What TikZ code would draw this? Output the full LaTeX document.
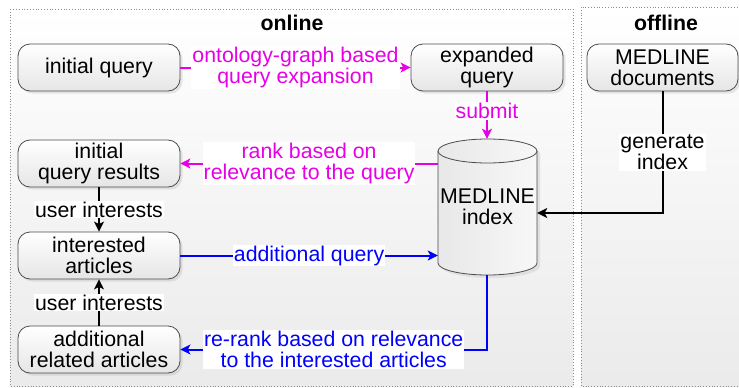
\documentclass[tikz,border=0pt]{standalone}
\usepackage{fontspec}
\setmainfont{Liberation Sans}
\usetikzlibrary{arrows.meta,shadows,calc}
\definecolor{mag}{RGB}{230,0,230}
\definecolor{blu}{RGB}{0,0,255}
\newcommand\dfont{\fontsize{21.3}{21.2}\selectfont}
\begin{document}
\begin{tikzpicture}[x=1pt,y=-1pt,
  box/.style={draw=black!70, line width=0.8pt, rounded corners=12pt,
    minimum width=162pt, minimum height=47pt, align=center,
    top color=white, bottom color=black!10, font=\dfont, inner sep=1pt,
    drop shadow={shadow xshift=2.5pt, shadow yshift=-2.5pt, opacity=0.18}},
  lbl/.style={fill=white, inner sep=1pt, font=\dfont, align=center},
  arr/.style={-{Stealth[length=10pt,width=10pt,inset=2.5pt]}, line width=2pt},
  title/.style={font=\dfont\bfseries},
  panel/.style={draw=black!45, dotted, line width=0.8pt, top color=white, bottom color=black!8}
]
\useasboundingbox (0,0) rectangle (739,388);
% panels
\path[panel] (10,9) rectangle (573,386);
\path[panel] (581,7) rectangle (745,386);
\node[title] (ton) at (292,23) {online};
\node[title] (toff) at (666,23) {offline};

% nodes
\node[box] (iq) at (99,67.5) {initial query};
\node[box] (iqr) at (99,163.5) {initial\\query results};
\node[box] (ia) at (99,255.5) {interested\\articles};
\node[box] (ara) at (99,349.5) {additional\\related articles};
\node[box, minimum width=152pt] (eq) at (487,67.5) {expanded\\query};
\node[box, minimum width=151pt] (md) at (662.5,67.5) {MEDLINE\\documents};

% cylinder
\fill[black!12] (441,154) -- (441,266) arc[start angle=180,end angle=360,x radius=49.5pt,y radius=12pt]
  -- (540,154) arc[start angle=0,end angle=180,x radius=49.5pt,y radius=12pt] -- cycle;
\path[draw=black!70, line width=0.8pt, left color=black!9, right color=black!3]
  (438,151) -- (438,263) arc[start angle=180,end angle=360,x radius=49.5pt,y radius=12pt]
  -- (537,151) arc[start angle=0,end angle=180,x radius=49.5pt,y radius=12pt] -- cycle;
\draw[black!70, line width=0.8pt] (438,151) arc[start angle=180,end angle=360,x radius=49.5pt,y radius=12pt];
\node[minimum width=99pt, minimum height=136pt, inner sep=0pt, align=center, font=\dfont] (idx) at (487.5,207) {MEDLINE\\index};

% connectors
\draw[arr, mag] (iq) -- node[lbl, text=mag] {ontology-graph based\\query expansion} (eq);
\draw[arr, mag] (eq.south) -- node[lbl, text=mag, pos=0.42] {submit} (eq.south |- idx.north);
\draw[arr, mag] (idx.west |- iqr.east) -- node[lbl, text=mag] {rank based on\\relevance to the query} (iqr.east);
\draw[arr, black] (iqr) -- node[lbl] {user interests} (ia);
\draw[arr, black] (ara) -- node[lbl] {user interests} (ia);
\draw[arr, blu] (ia.east) -- node[lbl, text=blu] {additional query} (ia.east -| idx.west);
\draw[arr, blu] (eq.south |- idx.south) |- node[lbl, text=blu, pos=0.75] {re-rank based on relevance\\to the interested articles} (ara.east);
\draw[arr, black] (md.south) |- node[lbl, pos=0.25] {generate\\index} ([yshift=-6pt]idx.east);
\end{tikzpicture}
\end{document}
